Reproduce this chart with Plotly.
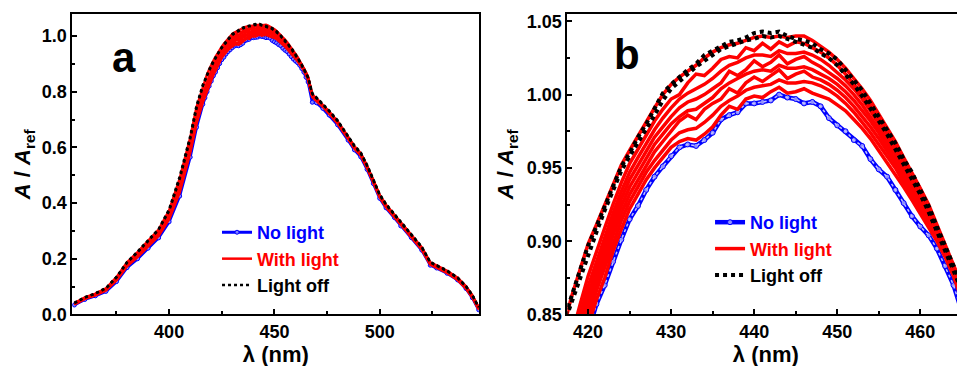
import plotly.graph_objects as go

# ---------------- data ----------------
wl_left = [355, 360, 365, 370, 375, 380, 385, 390, 395, 400, 405, 410, 413]
wl_mid = list(range(416, 467))
wl_right = [468, 470, 473, 476, 480, 485, 488, 491, 494, 497, 500, 503, 507,
            510, 515, 520, 524, 527, 532, 537, 541, 544, 547]
wavelength = wl_left + wl_mid + wl_right

no_light = (
    [0.034, 0.054, 0.067, 0.083, 0.118, 0.168, 0.200, 0.238, 0.275, 0.333, 0.425, 0.565, 0.672]
    + [0.755, 0.778, 0.800, 0.820, 0.838, 0.857, 0.870, 0.886, 0.901, 0.915,
       0.924, 0.935, 0.944, 0.951, 0.958, 0.964, 0.966, 0.965, 0.969, 0.974,
       0.983, 0.986, 0.988, 0.994, 0.994, 0.995, 0.996, 1.000, 0.998, 0.997,
       0.994, 0.995, 0.992, 0.984, 0.979, 0.975, 0.969, 0.965, 0.956, 0.949,
       0.944, 0.935, 0.926, 0.917, 0.910, 0.904, 0.895, 0.883, 0.870, 0.852, 0.835]
    + [0.762, 0.760, 0.740, 0.716, 0.681, 0.626, 0.591, 0.566, 0.521, 0.470, 0.417, 0.383,
       0.348, 0.318, 0.276, 0.231, 0.177, 0.167, 0.148, 0.124, 0.093, 0.060, 0.017]
)

with_light_1 = (
    [0.036, 0.056, 0.069, 0.086, 0.122, 0.173, 0.206, 0.245, 0.282, 0.342, 0.438, 0.580, 0.685]
    + [0.762, 0.783, 0.804, 0.823, 0.842, 0.860, 0.875, 0.893, 0.908, 0.922,
       0.932, 0.942, 0.950, 0.957, 0.964, 0.968, 0.970, 0.969, 0.973, 0.978,
       0.986, 0.992, 0.990, 0.997, 0.999, 0.998, 1.002, 1.005, 1.001, 1.002,
       1.004, 1.001, 0.999, 0.997, 0.993, 0.989, 0.983, 0.977, 0.970, 0.962,
       0.954, 0.946, 0.937, 0.928, 0.919, 0.910, 0.900, 0.889, 0.876, 0.860, 0.842]
    + [0.781, 0.768, 0.746, 0.721, 0.686, 0.631, 0.596, 0.571, 0.526, 0.474, 0.421, 0.386,
       0.351, 0.321, 0.278, 0.233, 0.179, 0.168, 0.149, 0.124, 0.093, 0.061, 0.018]
)
with_light_2 = (
    [0.037, 0.057, 0.070, 0.087, 0.124, 0.175, 0.209, 0.248, 0.286, 0.347, 0.445, 0.588, 0.692]
    + [0.766, 0.787, 0.808, 0.827, 0.848, 0.866, 0.882, 0.899, 0.914, 0.927,
       0.937, 0.947, 0.955, 0.962, 0.969, 0.974, 0.976, 0.977, 0.981, 0.986,
       0.992, 0.996, 0.999, 1.003, 1.005, 1.006, 1.007, 1.010, 1.008, 1.008,
       1.009, 1.008, 1.006, 1.003, 0.999, 0.994, 0.988, 0.981, 0.974, 0.966,
       0.958, 0.950, 0.940, 0.931, 0.921, 0.912, 0.902, 0.891, 0.878, 0.862, 0.845]
    + [0.782, 0.769, 0.747, 0.722, 0.687, 0.632, 0.597, 0.572, 0.527, 0.475, 0.422, 0.387,
       0.352, 0.322, 0.279, 0.234, 0.180, 0.169, 0.150, 0.125, 0.094, 0.062, 0.019]
)
with_light_3 = (
    [0.037, 0.058, 0.071, 0.088, 0.126, 0.177, 0.212, 0.251, 0.289, 0.351, 0.451, 0.595, 0.699]
    + [0.770, 0.792, 0.813, 0.833, 0.853, 0.871, 0.887, 0.904, 0.919, 0.932,
       0.942, 0.952, 0.961, 0.968, 0.975, 0.982, 0.986, 0.983, 0.990, 0.994,
       0.997, 1.004, 1.001, 1.008, 1.012, 1.009, 1.013, 1.017, 1.011, 1.014,
       1.016, 1.012, 1.010, 1.007, 1.003, 0.998, 0.992, 0.985, 0.978, 0.970,
       0.962, 0.953, 0.943, 0.934, 0.923, 0.913, 0.903, 0.892, 0.879, 0.863, 0.847]
    + [0.783, 0.770, 0.748, 0.723, 0.688, 0.633, 0.598, 0.573, 0.528, 0.476, 0.423, 0.388,
       0.353, 0.323, 0.280, 0.235, 0.181, 0.170, 0.151, 0.126, 0.095, 0.063, 0.020]
)
with_light_4 = (
    [0.038, 0.058, 0.072, 0.089, 0.127, 0.179, 0.214, 0.253, 0.292, 0.355, 0.457, 0.601, 0.705]
    + [0.775, 0.797, 0.818, 0.838, 0.858, 0.876, 0.892, 0.909, 0.924, 0.937,
       0.947, 0.957, 0.966, 0.973, 0.980, 0.985, 0.989, 0.990, 0.994, 0.998,
       1.004, 1.008, 1.011, 1.014, 1.016, 1.017, 1.016, 1.020, 1.018, 1.018,
       1.019, 1.017, 1.014, 1.011, 1.007, 1.002, 0.996, 0.989, 0.982, 0.974,
       0.965, 0.956, 0.946, 0.936, 0.925, 0.915, 0.905, 0.893, 0.880, 0.864, 0.848]
    + [0.784, 0.771, 0.749, 0.724, 0.689, 0.634, 0.599, 0.574, 0.529, 0.477, 0.424, 0.389,
       0.354, 0.324, 0.281, 0.236, 0.182, 0.171, 0.152, 0.127, 0.096, 0.064, 0.021]
)
with_light_5 = (
    [0.038, 0.059, 0.072, 0.090, 0.129, 0.181, 0.216, 0.256, 0.295, 0.359, 0.463, 0.607, 0.711]
    + [0.780, 0.802, 0.823, 0.843, 0.863, 0.881, 0.897, 0.914, 0.929, 0.942,
       0.952, 0.962, 0.971, 0.978, 0.985, 0.991, 0.995, 0.997, 1.000, 1.004,
       1.008, 1.016, 1.013, 1.017, 1.023, 1.019, 1.022, 1.027, 1.021, 1.024,
       1.026, 1.022, 1.019, 1.015, 1.011, 1.006, 1.000, 0.993, 0.985, 0.977,
       0.968, 0.959, 0.949, 0.938, 0.928, 0.917, 0.906, 0.894, 0.881, 0.865, 0.849]
    + [0.785, 0.772, 0.750, 0.725, 0.690, 0.635, 0.600, 0.575, 0.530, 0.478, 0.425, 0.390,
       0.355, 0.325, 0.282, 0.237, 0.183, 0.172, 0.153, 0.128, 0.097, 0.065, 0.022]
)
with_light_6 = (
    [0.039, 0.059, 0.073, 0.091, 0.130, 0.183, 0.218, 0.258, 0.298, 0.363, 0.469, 0.614, 0.718]
    + [0.785, 0.807, 0.829, 0.849, 0.869, 0.886, 0.902, 0.919, 0.934, 0.947,
       0.957, 0.967, 0.976, 0.984, 0.991, 0.997, 1.001, 1.004, 1.007, 1.011,
       1.016, 1.020, 1.022, 1.025, 1.027, 1.027, 1.026, 1.030, 1.028, 1.028,
       1.029, 1.027, 1.024, 1.020, 1.015, 1.010, 1.004, 0.997, 0.989, 0.980,
       0.971, 0.962, 0.951, 0.940, 0.930, 0.919, 0.907, 0.895, 0.882, 0.866, 0.850]
    + [0.786, 0.773, 0.751, 0.726, 0.691, 0.636, 0.601, 0.576, 0.531, 0.479, 0.426, 0.391,
       0.356, 0.326, 0.283, 0.238, 0.184, 0.173, 0.154, 0.129, 0.098, 0.066, 0.023]
)
with_light_7 = (
    [0.040, 0.060, 0.074, 0.092, 0.132, 0.185, 0.221, 0.261, 0.301, 0.368, 0.477, 0.622, 0.727]
    + [0.792, 0.814, 0.836, 0.856, 0.876, 0.893, 0.909, 0.925, 0.940, 0.953,
       0.963, 0.973, 0.982, 0.990, 0.997, 1.000, 1.008, 1.014, 1.013, 1.018,
       1.024, 1.026, 1.025, 1.032, 1.030, 1.035, 1.031, 1.036, 1.033, 1.036,
       1.035, 1.032, 1.029, 1.025, 1.020, 1.014, 1.007, 1.000, 0.992, 0.983,
       0.974, 0.964, 0.953, 0.942, 0.932, 0.921, 0.908, 0.896, 0.883, 0.868, 0.851]
    + [0.787, 0.774, 0.752, 0.727, 0.692, 0.637, 0.602, 0.577, 0.532, 0.480, 0.427, 0.392,
       0.357, 0.327, 0.284, 0.239, 0.185, 0.174, 0.155, 0.130, 0.099, 0.067, 0.024]
)
with_light_8 = (
    [0.041, 0.061, 0.075, 0.094, 0.134, 0.187, 0.224, 0.264, 0.305, 0.374, 0.488, 0.634, 0.745]
    + [0.815, 0.840, 0.862, 0.880, 0.898, 0.911, 0.925, 0.939, 0.952, 0.962,
       0.972, 0.981, 0.991, 1.000, 1.007, 1.012, 1.016, 1.020, 1.025, 1.029,
       1.032, 1.034, 1.035, 1.037, 1.039, 1.040, 1.039, 1.040, 1.039, 1.040,
       1.040, 1.037, 1.033, 1.029, 1.024, 1.018, 1.011, 1.004, 0.996, 0.987,
       0.978, 0.968, 0.957, 0.947, 0.936, 0.925, 0.911, 0.898, 0.884, 0.870, 0.853]
    + [0.789, 0.776, 0.754, 0.729, 0.694, 0.639, 0.604, 0.579, 0.534, 0.482, 0.429, 0.394,
       0.359, 0.329, 0.286, 0.241, 0.187, 0.176, 0.157, 0.132, 0.101, 0.069, 0.026]
)

light_off_1 = (
    [0.042, 0.062, 0.076, 0.095, 0.135, 0.188, 0.226, 0.266, 0.307, 0.378, 0.495, 0.640, 0.750]
    + [0.825, 0.845, 0.863, 0.879, 0.897, 0.910, 0.924, 0.938, 0.951, 0.960,
       0.971, 0.980, 0.990, 1.001, 1.007, 1.012, 1.017, 1.021, 1.027, 1.030,
       1.033, 1.036, 1.037, 1.039, 1.042, 1.043, 1.042, 1.043, 1.040, 1.038,
       1.037, 1.035, 1.031, 1.028, 1.024, 1.017, 1.010, 1.003, 0.994, 0.985,
       0.976, 0.967, 0.956, 0.947, 0.935, 0.924, 0.910, 0.897, 0.883, 0.870, 0.852]
    + [0.795, 0.780, 0.757, 0.732, 0.697, 0.642, 0.607, 0.582, 0.537, 0.485, 0.432, 0.397,
       0.361, 0.331, 0.288, 0.243, 0.189, 0.177, 0.158, 0.133, 0.102, 0.070, 0.027]
)
light_off_2 = (
    [0.041, 0.061, 0.075, 0.094, 0.133, 0.186, 0.223, 0.263, 0.304, 0.372, 0.486, 0.630, 0.740]
    + [0.820, 0.842, 0.858, 0.876, 0.892, 0.906, 0.921, 0.934, 0.948, 0.958,
       0.967, 0.977, 0.986, 0.996, 1.004, 1.009, 1.014, 1.019, 1.023, 1.027,
       1.031, 1.033, 1.035, 1.037, 1.038, 1.040, 1.039, 1.040, 1.038, 1.036,
       1.034, 1.032, 1.028, 1.025, 1.020, 1.014, 1.007, 0.999, 0.991, 0.982,
       0.973, 0.963, 0.953, 0.943, 0.932, 0.920, 0.907, 0.894, 0.880, 0.866, 0.849]
    + [0.792, 0.777, 0.755, 0.730, 0.695, 0.640, 0.604, 0.579, 0.534, 0.482, 0.429, 0.394,
       0.359, 0.329, 0.286, 0.241, 0.187, 0.175, 0.156, 0.131, 0.100, 0.068, 0.025]
)

with_light = [with_light_1, with_light_2, with_light_3, with_light_4,
              with_light_5, with_light_6, with_light_7, with_light_8]
light_off = [light_off_1, light_off_2]

a_xticks = [400, 450, 500]
a_yticks = [0.0, 0.2, 0.4, 0.6, 0.8, 1.0]
b_xticks = [420, 430, 440, 450, 460]
b_yticks = [0.85, 0.90, 0.95, 1.00, 1.05]

for s in [no_light] + with_light + light_off:
    assert len(s) == len(wavelength), len(s)

# ---------------- figure ----------------
# (the page adds an 8 px body margin, so the layout below is placed 8 px up/left)
BLUE, RED, BLACK = "#0000FF", "#FF0000", "#000000"
FONT = "Arial, 'Liberation Sans', sans-serif"

fig = go.Figure()

# panel a
fig.add_trace(go.Scatter(x=wavelength, y=no_light, mode="lines+markers",
                         line=dict(color=BLUE, width=3),
                         marker=dict(size=4, color="#8080ff", line=dict(color=BLUE, width=1)),
                         name="<span style='color:#0000FF'>No light</span>",
                         xaxis="x", yaxis="y", legend="legend"))
for i, s in enumerate(with_light):
    fig.add_trace(go.Scatter(x=wavelength, y=s, mode="lines",
                             line=dict(color=RED, width=2.5),
                             name="<span style='color:#FF0000'>With light</span>",
                             showlegend=(i == 0), legendgroup="a_red",
                             xaxis="x", yaxis="y", legend="legend"))
for i, s in enumerate(light_off):
    fig.add_trace(go.Scatter(x=wavelength, y=s, mode="lines",
                             line=dict(color=BLACK, width=2.5, dash="dot"),
                             name="Light off",
                             showlegend=(i == 0), legendgroup="a_black",
                             xaxis="x", yaxis="y", legend="legend"))

# panel b
fig.add_trace(go.Scatter(x=wavelength, y=no_light, mode="lines+markers",
                         line=dict(color=BLUE, width=4.5),
                         marker=dict(size=5, color="#9090ff", line=dict(color=BLUE, width=1)),
                         name="<span style='color:#0000FF'>No light</span>",
                         xaxis="x2", yaxis="y2", legend="legend2"))
fig.add_trace(go.Scatter(x=wavelength, y=no_light, mode="lines",
                         line=dict(color="#c0c0ff", width=1.5, dash="dot"),
                         showlegend=False, hoverinfo="skip",
                         xaxis="x2", yaxis="y2"))
for i, s in enumerate(with_light):
    fig.add_trace(go.Scatter(x=wavelength, y=s, mode="lines",
                             line=dict(color=RED, width=3.5),
                             name="<span style='color:#FF0000'>With light</span>",
                             showlegend=(i == 0), legendgroup="b_red",
                             xaxis="x2", yaxis="y2", legend="legend2"))
for i, s in enumerate(light_off):
    fig.add_trace(go.Scatter(x=wavelength, y=s, mode="lines",
                             line=dict(color=BLACK, width=4, dash="dot"),
                             name="Light off",
                             showlegend=(i == 0), legendgroup="b_black",
                             xaxis="x2", yaxis="y2", legend="legend2"))

tickfont = dict(family=FONT, size=18, color="black", weight="bold")
titlefont = dict(family=FONT, size=22, color="black", weight="bold")


def xstyle(domain, rng, tickvals, minor_dtick, anchor):
    return dict(domain=domain, range=rng, anchor=anchor, tickvals=tickvals,
                automargin=False,
                ticks="inside", ticklen=5, tickwidth=1.5, tickcolor="black",
                minor=dict(dtick=minor_dtick, ticks="inside", ticklen=3, tickwidth=1.5,
                           tickcolor="black", showgrid=False, tick0=0),
                showline=True, linecolor="black", linewidth=2, mirror=True,
                showgrid=False, zeroline=False, tickfont=tickfont,
                title=dict(text="λ (nm)", font=titlefont, standoff=2))


def ystyle(domain, rng, tickvals, fmt, minor_dtick, anchor, standoff):
    return dict(domain=domain, range=rng, anchor=anchor, tickvals=tickvals, tickformat=fmt,
                automargin=False,
                ticks="inside", ticklen=5, tickwidth=1.5, tickcolor="black",
                minor=dict(dtick=minor_dtick, ticks="inside", ticklen=3, tickwidth=1.5,
                           tickcolor="black", showgrid=False, tick0=0),
                showline=True, linecolor="black", linewidth=2, mirror=True,
                showgrid=False, zeroline=False, tickfont=tickfont,
                title=dict(text="<i>A</i> / <i>A</i><sub>ref</sub>", font=titlefont,
                           standoff=standoff))


legend_font = dict(family=FONT, size=18, color="black", weight="bold")

fig.update_layout(
    width=965, height=366,
    margin=dict(l=0, r=0, t=0, b=0),
    paper_bgcolor="white", plot_bgcolor="white",
    font=dict(family=FONT),
    xaxis=xstyle([0.0666, 0.4884], [354.0, 547.3], a_xticks, 25, "y"),
    yaxis=ystyle([0.1626, 0.9836], [0.0, 1.079], a_yticks, ".1f", 0.1, "x", 5),
    xaxis2=xstyle([0.5796, 0.9910], [417.5, 465.3], b_xticks, 5, "y2"),
    yaxis2=ystyle([0.1626, 0.9836], [0.85, 1.055], b_yticks, ".2f", 0.025, "x2", 7),
    legend=dict(x=0.2166, y=0.4370, xanchor="left", yanchor="top",
                bgcolor="rgba(0,0,0,0)", borderwidth=0, font=legend_font,
                tracegroupgap=0, itemwidth=30),
    legend2=dict(x=0.7275, y=0.4645, xanchor="left", yanchor="top",
                 bgcolor="rgba(0,0,0,0)", borderwidth=0, font=legend_font,
                 tracegroupgap=0, itemwidth=30),
    annotations=[
        dict(text="<b>a</b>", x=0.1202, y=0.8634, xref="paper", yref="paper",
             xanchor="center", yanchor="middle",
             showarrow=False, font=dict(family=FONT, size=42, color="black")),
        dict(text="<b>b</b>", x=0.6415, y=0.8716, xref="paper", yref="paper",
             xanchor="center", yanchor="middle",
             showarrow=False, font=dict(family=FONT, size=42, color="black")),
    ],
)

fig.write_html("out.html")
